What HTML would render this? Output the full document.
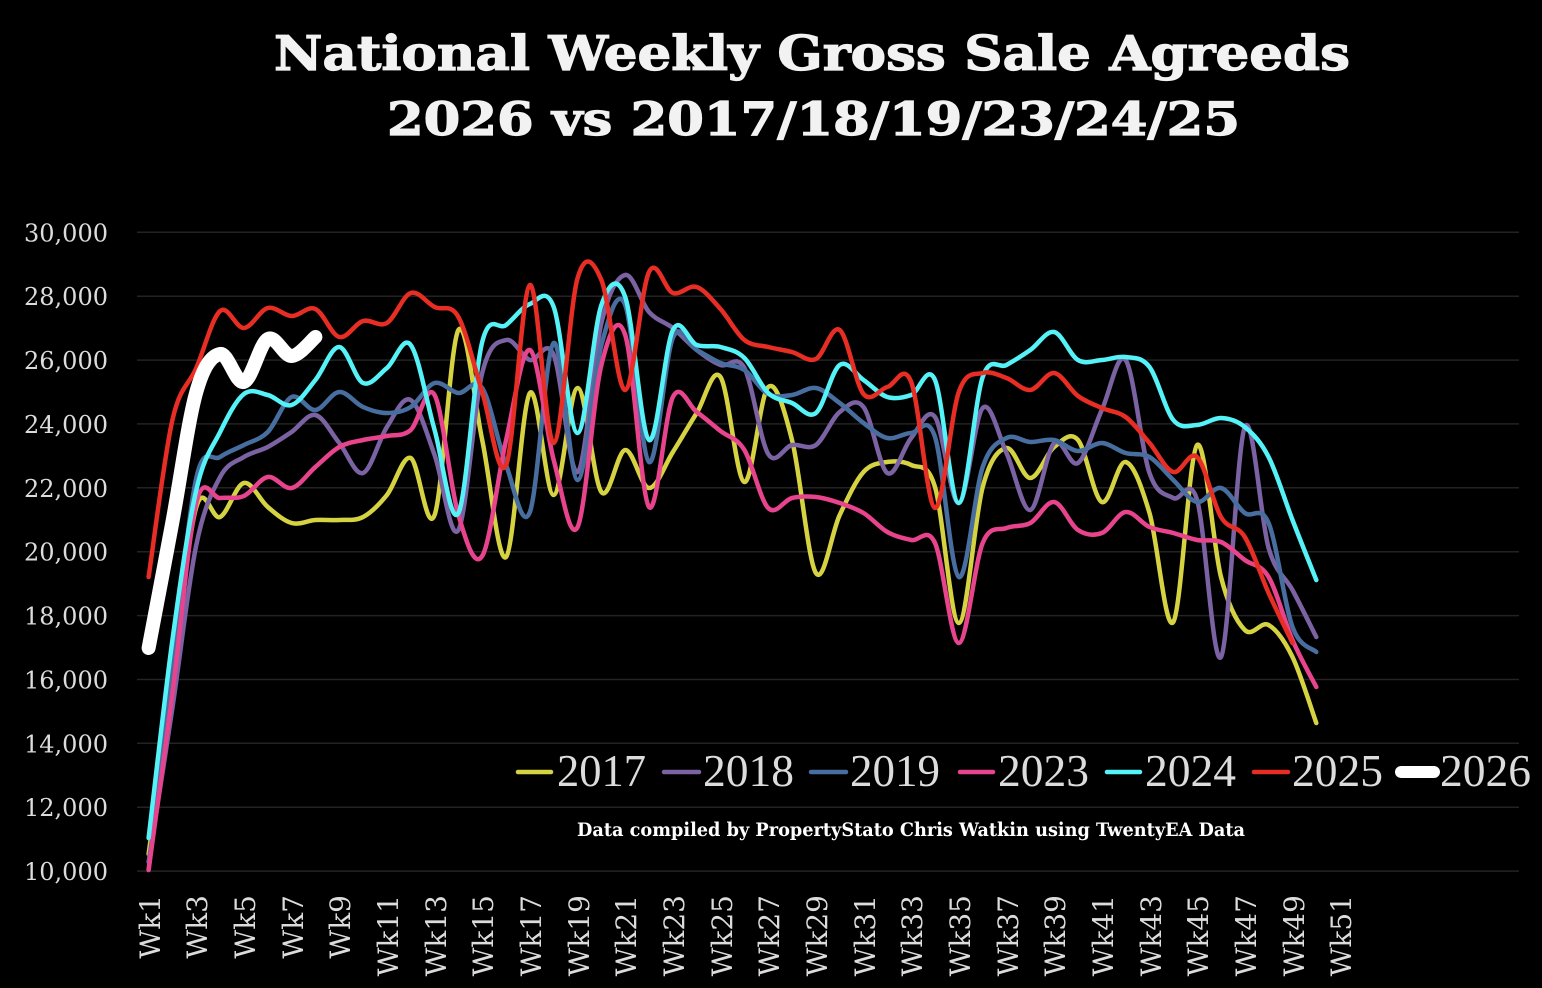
<!DOCTYPE html>
<html>
<head>
<meta charset="utf-8">
<style>
  html,body{margin:0;padding:0;background:#000;}
  svg{display:block;}
</style>
</head>
<body>
<svg id="chart" width="1542" height="988" viewBox="0 0 1542 988" xmlns="http://www.w3.org/2000/svg">
  <rect x="0" y="0" width="1542" height="988" fill="#000"/>
  <!-- Title -->
  <text x="274" y="70" font-family="'DejaVu Serif','Liberation Serif',serif" font-weight="bold" font-size="48" fill="#f2f2f2" stroke="#f2f2f2" stroke-width="1.2" textLength="1076" lengthAdjust="spacingAndGlyphs">National Weekly Gross Sale Agreeds</text>
  <text x="387" y="135" font-family="'DejaVu Serif','Liberation Serif',serif" font-weight="bold" font-size="46" fill="#f2f2f2" stroke="#f2f2f2" stroke-width="1.2" textLength="853" lengthAdjust="spacingAndGlyphs">2026 vs 2017/18/19/23/24/25</text>

  <!-- Gridlines -->
  <g stroke="#232323" stroke-width="1.5">
    <line x1="137" x2="1519" y1="232.3" y2="232.3"/>
    <line x1="137" x2="1519" y1="296.2" y2="296.2"/>
    <line x1="137" x2="1519" y1="360.1" y2="360.1"/>
    <line x1="137" x2="1519" y1="423.9" y2="423.9"/>
    <line x1="137" x2="1519" y1="487.8" y2="487.8"/>
    <line x1="137" x2="1519" y1="551.7" y2="551.7"/>
    <line x1="137" x2="1519" y1="615.6" y2="615.6"/>
    <line x1="137" x2="1519" y1="679.5" y2="679.5"/>
    <line x1="137" x2="1519" y1="743.3" y2="743.3"/>
    <line x1="137" x2="1519" y1="807.2" y2="807.2"/>
    <line x1="137" x2="1519" y1="871.1" y2="871.1"/>
  </g>

  <!-- Y labels -->
  <g font-family="'DejaVu Serif','Liberation Serif',serif" font-size="24" fill="#dcdcdc" text-anchor="end">
    <text x="108" y="241.3">30,000</text>
    <text x="108" y="305.2">28,000</text>
    <text x="108" y="369.1">26,000</text>
    <text x="108" y="432.9">24,000</text>
    <text x="108" y="496.8">22,000</text>
    <text x="108" y="560.7">20,000</text>
    <text x="108" y="624.6">18,000</text>
    <text x="108" y="688.5">16,000</text>
    <text x="108" y="752.3">14,000</text>
    <text x="108" y="816.2">12,000</text>
    <text x="108" y="880.1">10,000</text>
  </g>

  <!-- X labels -->
  <g id="xlabels" font-family="'DejaVu Serif','Liberation Serif',serif" font-size="28" fill="#dcdcdc" text-anchor="end">
    <text transform="translate(160,895) rotate(-90)">Wk1</text>
    <text transform="translate(207,895) rotate(-90)">Wk3</text>
    <text transform="translate(255,895) rotate(-90)">Wk5</text>
    <text transform="translate(303,895) rotate(-90)">Wk7</text>
    <text transform="translate(350,895) rotate(-90)">Wk9</text>
    <text transform="translate(398,895) rotate(-90)">Wk11</text>
    <text transform="translate(446,895) rotate(-90)">Wk13</text>
    <text transform="translate(493,895) rotate(-90)">Wk15</text>
    <text transform="translate(541,895) rotate(-90)">Wk17</text>
    <text transform="translate(589,895) rotate(-90)">Wk19</text>
    <text transform="translate(636,895) rotate(-90)">Wk21</text>
    <text transform="translate(684,895) rotate(-90)">Wk23</text>
    <text transform="translate(732,895) rotate(-90)">Wk25</text>
    <text transform="translate(779,895) rotate(-90)">Wk27</text>
    <text transform="translate(827,895) rotate(-90)">Wk29</text>
    <text transform="translate(875,895) rotate(-90)">Wk31</text>
    <text transform="translate(922,895) rotate(-90)">Wk33</text>
    <text transform="translate(970,895) rotate(-90)">Wk35</text>
    <text transform="translate(1018,895) rotate(-90)">Wk37</text>
    <text transform="translate(1065,895) rotate(-90)">Wk39</text>
    <text transform="translate(1113,895) rotate(-90)">Wk41</text>
    <text transform="translate(1161,895) rotate(-90)">Wk43</text>
    <text transform="translate(1208,895) rotate(-90)">Wk45</text>
    <text transform="translate(1256,895) rotate(-90)">Wk47</text>
    <text transform="translate(1304,895) rotate(-90)">Wk49</text>
    <text transform="translate(1351,895) rotate(-90)">Wk51</text>
  </g>

  <!-- Series -->
  <g id="series" fill="none" stroke-linecap="round" stroke-linejoin="round"></g>

  <!-- Legend -->
  <g stroke-linecap="round">
    <line x1="518" x2="551" y1="772" y2="772" stroke="#d6d343" stroke-width="4.5"/>
    <line x1="664" x2="699" y1="772" y2="772" stroke="#7b62a2" stroke-width="4.5"/>
    <line x1="811" x2="846" y1="772" y2="772" stroke="#486ea0" stroke-width="4.5"/>
    <line x1="960" x2="993" y1="772" y2="772" stroke="#e8438d" stroke-width="4.5"/>
    <line x1="1107" x2="1140" y1="772" y2="772" stroke="#55f2f7" stroke-width="4.5"/>
    <line x1="1254" x2="1288" y1="772" y2="772" stroke="#e82e24" stroke-width="4.5"/>
    <line x1="1401" x2="1434" y1="772" y2="772" stroke="#ffffff" stroke-width="12"/>
  </g>
  <g font-family="'Liberation Serif',serif" font-size="46" fill="#dcdcdc">
    <text x="557" y="786" textLength="89" lengthAdjust="spacingAndGlyphs">2017</text>
    <text x="703" y="786" textLength="91" lengthAdjust="spacingAndGlyphs">2018</text>
    <text x="850" y="786" textLength="90" lengthAdjust="spacingAndGlyphs">2019</text>
    <text x="998" y="786" textLength="91" lengthAdjust="spacingAndGlyphs">2023</text>
    <text x="1145" y="786" textLength="91" lengthAdjust="spacingAndGlyphs">2024</text>
    <text x="1292" y="786" textLength="91" lengthAdjust="spacingAndGlyphs">2025</text>
    <text x="1440" y="786" textLength="91" lengthAdjust="spacingAndGlyphs">2026</text>
  </g>

  <!-- Footnote -->
  <text x="577" y="836" font-family="'DejaVu Serif','Liberation Serif',serif" font-weight="bold" font-size="19" fill="#ffffff" textLength="668" lengthAdjust="spacingAndGlyphs">Data compiled by PropertyStato Chris Watkin using TwentyEA Data</text>
</svg>

<script>
(function(){
  var X0 = 136.7, W = 23.83;
  function xw(i){ return X0 + (i + 0.5) * W; }
  function pathD(ys){
    var p = ys.map(function(y,i){ return [xw(i), y]; });
    var n = p.length;
    var d = 'M' + p[0][0].toFixed(1) + ',' + p[0][1].toFixed(1);
    for (var i = 0; i < n - 1; i++){
      var p0 = p[Math.max(i-1,0)], p1 = p[i], p2 = p[i+1], p3 = p[Math.min(i+2,n-1)];
      var c1x = p1[0] + (p2[0]-p0[0])/6, c1y = p1[1] + (p2[1]-p0[1])/6;
      var c2x = p2[0] - (p3[0]-p1[0])/6, c2y = p2[1] - (p3[1]-p1[1])/6;
      d += ' C' + c1x.toFixed(1) + ',' + c1y.toFixed(1) + ' ' + c2x.toFixed(1) + ',' + c2y.toFixed(1) + ' ' + p2[0].toFixed(1) + ',' + p2[1].toFixed(1);
    }
    return d;
  }
  var series = [
    {c:'#d6d343', w:4.5, y:[854,680,507,517,483,507,523,520,520,517,495,458,515,330,440,557,393,495,388,492,450,488,452,413,377,482,387,440,573,515,472,462,465,487,623,487,448,478,447,440,502,462,513,622,445,577,630,625,657,723]},
    {c:'#7b62a2', w:4.5, y:[862,708,545,477,457,447,432,415,443,473,427,400,455,530,373,340,360,355,472,323,275,312,328,350,365,368,454,445,445,412,407,473,438,417,503,408,453,510,443,463,410,360,473,498,500,657,427,548,590,637]},
    {c:'#486ea0', w:4.5, y:[870,670,478,457,445,432,397,410,392,407,413,407,383,393,388,465,512,343,480,345,305,462,338,350,363,370,394,395,388,403,423,438,433,437,577,467,438,442,440,451,443,453,457,480,502,488,513,523,627,652]},
    {c:'#e8438d', w:4.5, y:[870,694,503,498,496,477,488,467,447,440,436,430,395,515,556,440,350,460,527,365,335,507,397,412,431,450,508,498,497,503,513,532,540,543,643,543,528,523,502,530,533,512,527,533,540,542,560,577,640,687]},
    {c:'#55f2f7', w:4.5, y:[838,640,490,432,394,395,405,380,347,383,368,345,430,513,342,325,304,307,433,305,297,440,330,345,347,358,393,403,413,365,380,397,395,380,503,377,365,350,332,360,360,357,367,420,425,418,427,457,520,580]},
    {c:'#e82e24', w:4.5, y:[577,420,368,311,328,308,316,309,337,321,323,293,307,317,392,465,285,443,278,280,390,272,293,287,309,340,347,352,359,330,394,387,382,508,392,373,378,390,373,396,408,417,443,472,457,517,537,593,643]},
    {c:'#ffffff', w:14, y:[648,522,392,354,382,339,356,337]}
  ];
  var g = document.getElementById('series');
  var NS = 'http://www.w3.org/2000/svg';
  series.forEach(function(s){
    var el = document.createElementNS(NS,'path');
    el.setAttribute('d', pathD(s.y));
    el.setAttribute('stroke', s.c);
    el.setAttribute('stroke-width', s.w);
    el.setAttribute('fill','none');
    g.appendChild(el);
  });
})();
</script>
</body>
</html>
